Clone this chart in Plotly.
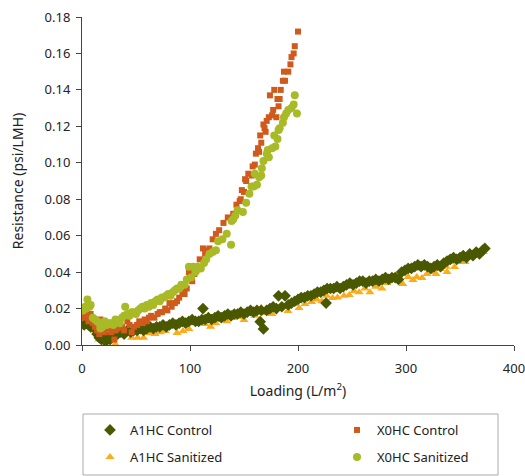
import plotly.graph_objects as go

# ---------------- data ----------------
a1c_x = [2,4,6,8,10,12,14,16,18,20,22,24,26,28,30,33,36,39,42,45,48,51,54,57,60,63,66,69,72,75,78,81,84,87,90,93,96,99,
         102,105,108,111,112,114,117,120,123,126,129,132,135,138,141,144,147,150,153,156,159,162,165,166,168,171,174,177,
         180,182,185,188,191,194,197,200,203,206,209,212,215,218,221,224,226,227,230,233,236,239,242,245,248,251,254,257,
         260,263,266,269,272,275,278,281,284,287,290,293,296,299,302,305,308,311,314,317,320,323,326,329,332,335,338,341,
         344,347,350,353,356,359,362,365,368,371,373]
a1c_y = [0.011,0.012,0.011,0.010,0.011,0.009,0.006,0.004,0.003,0.003,0.002,0.004,0.003,0.005,0.006,0.006,0.007,0.006,
         0.008,0.007,0.008,0.008,0.009,0.008,0.009,0.010,0.009,0.010,0.010,0.011,0.010,0.011,0.012,0.011,0.012,0.013,
         0.012,0.013,0.014,0.013,0.013,0.014,0.020,0.014,0.015,0.014,0.015,0.016,0.015,0.016,0.017,0.016,0.017,0.017,
         0.018,0.017,0.018,0.019,0.018,0.019,0.0128,0.019,0.0088,0.019,0.020,0.021,0.020,0.027,0.021,0.027,0.022,0.023,
         0.024,0.025,0.026,0.026,0.027,0.027,0.028,0.029,0.029,0.030,0.023,0.031,0.031,0.031,0.032,0.031,0.032,0.033,
         0.034,0.033,0.034,0.035,0.035,0.034,0.035,0.035,0.036,0.035,0.036,0.037,0.036,0.037,0.037,0.036,0.040,0.041,
         0.042,0.042,0.043,0.044,0.043,0.044,0.043,0.042,0.043,0.044,0.043,0.045,0.046,0.047,0.048,0.047,0.048,0.049,
         0.048,0.050,0.049,0.051,0.050,0.052,0.053]

a1s_x = [4.6,8,12,15.7,21,26,30.8,35,40.6,46,51.5,57,62,67.6,72.5,77,82.5,88,93.5,99,103.7,108,114,119,124,130,134,
         140,144.7,150,154.6,160,165.7,170,176,180.6,186,190.7,196,201,206.5,212.6,217.3,222,226.5,232,236.6,242.6,
         247.5,251.8,256.6,262,266.6,272,277.7,282.4,288,292.6,297,302,306.5,310,314.8,319.4,324,327.8,332,337,338,
         340,345,350,354.6,359,364,368.5,371.5]
a1s_y = [0.012,0.010,0.008,0.003,0.004,0.004,0.0005,0.006,0.007,0.004,0.004,0.004,0.0065,0.006,0.007,0.0077,0.0115,
         0.0066,0.0077,0.0088,0.012,0.012,0.0115,0.010,0.012,0.0137,0.013,0.0148,0.0154,0.0137,0.017,0.016,0.0203,
         0.0176,0.017,0.0198,0.0214,0.0187,0.0225,0.0203,0.0225,0.0236,0.025,0.024,0.027,0.0258,0.026,0.027,0.0275,
         0.0297,0.029,0.031,0.029,0.032,0.031,0.034,0.0357,0.036,0.0335,0.0373,0.0357,0.0373,0.0368,0.039,0.040,0.039,
         0.0417,0.043,0.040,0.0456,0.0428,0.0456,0.0456,0.0483,0.050,0.0505,0.051]

x0c_x = [2,3,5,6,8,10,12,14,16,17,19,21,23,25,27,29,30,31,33,35,37,39,42,44,46,48,51,53,56,58,60,62,64,67,70,72,74,
         77,79,81,83,86,88,90,93,95,97,99,100,102,104,106,109,112,114,116,118,121,124,127,131,135,140,143,146,147,148,
         150,151,152,154,157,158,160,161,163,164,165,166,168,169,170,171,173,174,176,177,178,180,181,182,183,184,186,
         187,188,191,193,194,196,197,200]
x0c_y = [0.015,0.018,0.016,0.013,0.017,0.012,0.010,0.008,0.006,0.014,0.009,0.007,0.011,0.009,0.007,0.010,0.003,0.008,
         0.009,0.011,0.010,0.008,0.013,0.011,0.007,0.010,0.011,0.013,0.012,0.014,0.013,0.015,0.016,0.015,0.017,0.018,
         0.018,0.020,0.019,0.023,0.021,0.023,0.024,0.026,0.029,0.028,0.031,0.040,0.038,0.035,0.039,0.041,0.047,0.053,
         0.050,0.052,0.053,0.058,0.061,0.063,0.067,0.070,0.072,0.077,0.079,0.080,0.085,0.084,0.091,0.090,0.094,0.093,
         0.098,0.099,0.105,0.108,0.106,0.115,0.111,0.121,0.119,0.117,0.123,0.125,0.137,0.126,0.129,0.140,0.125,0.135,
         0.131,0.135,0.140,0.145,0.150,0.145,0.150,0.154,0.158,0.160,0.164,0.172]

x0s_x = [1,3,4,5,7,8,10,12,14,16,17,19,21,23,25,27,29,31,33,35,37,39,40,42,44,46,48,50,52,54,56,58,60,62,64,66,68,70,
         72,74,76,78,80,82,84,86,88,90,92,95,97,99,101,103,105,107,110,113,115,118,121,124,126,130,134,138,138.5,140,
         142,144,149,152,155,157,159,160,162,164,166,166.5,168,171,172,173,176,178,179,181,182,183,186,187,189,191,194,
         196,197,199]
x0s_y = [0.019,0.021,0.020,0.025,0.021,0.022,0.015,0.014,0.013,0.012,0.009,0.010,0.013,0.011,0.012,0.012,0.011,0.014,
         0.013,0.012,0.015,0.016,0.021,0.017,0.016,0.018,0.018,0.017,0.019,0.020,0.021,0.020,0.022,0.021,0.023,0.022,
         0.024,0.025,0.024,0.026,0.026,0.027,0.028,0.027,0.029,0.030,0.031,0.031,0.033,0.033,0.036,0.043,0.037,0.043,
         0.040,0.043,0.042,0.045,0.047,0.050,0.051,0.052,0.057,0.058,0.061,0.055,0.068,0.069,0.071,0.074,0.073,0.078,
         0.083,0.087,0.087,0.094,0.088,0.092,0.093,0.097,0.101,0.105,0.107,0.103,0.108,0.115,0.109,0.113,0.118,0.119,
         0.122,0.125,0.127,0.129,0.130,0.132,0.137,0.127]

x_ticks = [0, 100, 200, 300, 400]
y_ticks = [0.00, 0.02, 0.04, 0.06, 0.08, 0.10, 0.12, 0.14, 0.16, 0.18]

FONT = "Noto Sans"
C_A1C = "#4a5800"
C_A1S = "#fbab1c"
C_X0C = "#d05a1c"
C_X0S = "#a8ba26"

fig = go.Figure()
fig.add_trace(go.Scatter(x=a1s_x, y=a1s_y, mode="markers", name="A1HC Sanitized", legend="legend3",
                         marker=dict(symbol="triangle-up", size=8, color=C_A1S)))
fig.add_trace(go.Scatter(x=a1c_x, y=a1c_y, mode="markers", name="A1HC Control", legend="legend",
                         showlegend=True,
                         marker=dict(symbol="diamond", size=9, color=C_A1C)))
fig.add_trace(go.Scatter(x=x0c_x, y=x0c_y, mode="markers", name="X0HC Control", legend="legend2",
                         marker=dict(symbol="square", size=6, color=C_X0C)))
fig.add_trace(go.Scatter(x=x0s_x, y=x0s_y, mode="markers", name="X0HC Sanitized", legend="legend4",
                         marker=dict(symbol="circle", size=8, color=C_X0S)))

leg_common = dict(font=dict(family=FONT, size=13, color="#222"), bgcolor="rgba(0,0,0,0)",
                  xanchor="left", yanchor="middle", borderwidth=0)
x_c1 = (90 - 82) / 432
x_c2 = (337 - 82) / 432
y_r1 = (345 - 430) / 328
y_r2 = (345 - 457) / 328

fig.update_layout(
    width=525, height=476,
    showlegend=True,
    margin=dict(l=82, r=11, t=17, b=131, autoexpand=False),
    paper_bgcolor="white", plot_bgcolor="white",
    font=dict(family=FONT, size=13, color="#222"),
    legend=dict(x=x_c1, y=y_r1, **leg_common),
    legend2=dict(x=x_c2, y=y_r1, **leg_common),
    legend3=dict(x=x_c1, y=y_r2, **leg_common),
    legend4=dict(x=x_c2, y=y_r2, **leg_common),
    shapes=[dict(type="rect", xref="paper", yref="paper",
                 x0=(83 - 82) / 432, x1=(498 - 82) / 432,
                 y0=-(475 - 345) / 328, y1=-(414 - 345) / 328,
                 line=dict(color="#aaaaaa", width=1), fillcolor="rgba(0,0,0,0)")],
    xaxis=dict(range=[0, 400], tickvals=x_ticks, ticks="outside", ticklen=5, tickcolor="#444",
               showline=True, linecolor="#444", linewidth=1, showgrid=False, zeroline=False,
               ticklabeloverflow="allow", ticklabelstandoff=6,
               tickfont=dict(family=FONT, size=13, color="#222"),
               title=dict(text="Loading (L/m<sup>2</sup>)", font=dict(family=FONT, size=14, color="#222"), standoff=10)),
    yaxis=dict(range=[0, 0.18], tickvals=y_ticks, tickformat=".2f", ticks="outside", ticklen=5, tickcolor="#444",
               showline=True, linecolor="#444", linewidth=1, showgrid=False, zeroline=False,
               ticklabelstandoff=3,
               tickfont=dict(family=FONT, size=13, color="#222"),
               title=dict(text="Resistance (psi/LMH)", font=dict(family=FONT, size=14, color="#222"), standoff=17)),
)

fig.write_html("out.html")
